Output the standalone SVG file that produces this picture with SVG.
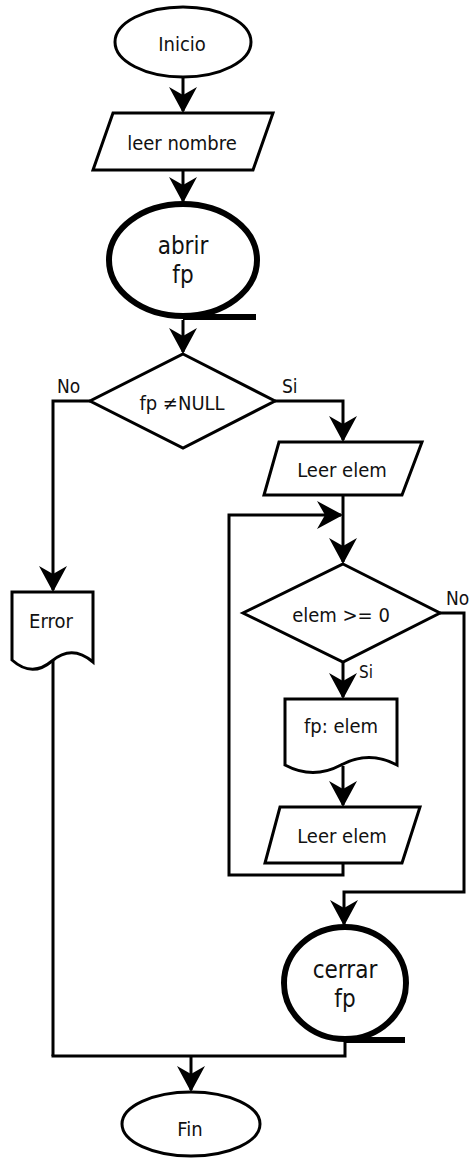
<svg xmlns="http://www.w3.org/2000/svg" width="470" height="1158" viewBox="0 0 470 1158">
<style>
.s{fill:#fff;stroke:#000;stroke-width:3;stroke-linejoin:miter}
.t{fill:#fff;stroke:#000;stroke-width:6}
.c{fill:none;stroke:#000;stroke-width:3}
.tail{stroke:#000;stroke-width:6}
text{font-family:"DejaVu Sans Condensed","DejaVu Sans",Verdana,sans-serif;font-stretch:condensed;font-size:20px;fill:#111;text-anchor:middle}
.big{font-size:24px}
.lbl{font-size:19px;text-anchor:start}
</style>
<defs>
<marker id="ah" markerUnits="userSpaceOnUse" markerWidth="28" markerHeight="28" viewBox="0 0 28 28" refX="24" refY="14" orient="auto">
<path d="M26,14 L0,0 L8,14 L0,28 Z" fill="#000"/>
</marker>
</defs>
<g id="connectors">
<line class="c" x1="183" y1="77" x2="183" y2="111" marker-end="url(#ah)"/>
<line class="c" x1="183" y1="171" x2="183" y2="201" marker-end="url(#ah)"/>
<line class="c" x1="183" y1="320" x2="183" y2="352" marker-end="url(#ah)"/>
<polyline class="c" points="90,401 53,401 53,590" marker-end="url(#ah)"/>
<polyline class="c" points="275,401 343,401 343,440" marker-end="url(#ah)"/>
<line class="c" x1="343" y1="495" x2="343" y2="562" marker-end="url(#ah)"/>
<polyline class="c" points="343,863 343,875 229,875 229,515 341,515" marker-end="url(#ah)"/>
<line class="c" x1="343" y1="662" x2="343" y2="697" marker-end="url(#ah)"/>
<line class="c" x1="343" y1="766" x2="343" y2="805" marker-end="url(#ah)"/>
<polyline class="c" points="440,613 464,613 464,892 344,892 344,924" marker-end="url(#ah)"/>
<line class="c" x1="53" y1="661" x2="53" y2="1056"/>
<polyline class="c" points="345,1040 345,1056 51.5,1056"/>
<line class="c" x1="191" y1="1056" x2="191" y2="1090" marker-end="url(#ah)"/>
<text class="lbl" x="57" y="393">No</text>
<text class="lbl" x="282" y="393">Si</text>
<text class="lbl" x="446" y="605">No</text>
<text class="lbl" x="359" y="678" style="font-size:17px">Si</text>
</g>
<g id="inicio">
<ellipse class="s" cx="183" cy="42" rx="68" ry="35"/>
<text x="182" y="51">Inicio</text>
</g>
<g id="leer-nombre">
<polygon class="s" points="113,113 273,113 253,170 93,170"/>
<text x="182" y="150">leer nombre</text>
</g>
<g id="abrir-fp">
<ellipse class="t" cx="183" cy="260" rx="74" ry="56"/>
<line class="tail" x1="183" y1="317" x2="256" y2="317"/>
<text class="big" x="183" y="254">abrir</text>
<text class="big" x="183" y="283">fp</text>
</g>
<g id="cond-fp">
<polygon class="s" points="183,354 275,401 183,448 90,401"/>
<text x="182" y="410">fp ≠NULL</text>
</g>
<g id="error">
<path class="s" d="M12,592 H93 V662 Q72,644 52,661 Q32,678 12,660 Z"/>
<text x="51" y="628">Error</text>
</g>
<g id="leer-elem-1">
<polygon class="s" points="279,442 422,442 402,495 264,495"/>
<text x="342" y="477">Leer elem</text>
</g>
<g id="cond-elem">
<polygon class="s" points="343,564 440,613 343,662 243,613"/>
<text x="341" y="622">elem &gt;= 0</text>
</g>
<g id="fp-elem">
<path class="s" d="M285,699 H397 V765 Q369,750 341,765 Q313,780 285,765 Z"/>
<text x="341" y="733">fp: elem</text>
</g>
<g id="leer-elem-2">
<polygon class="s" points="280,807 420,807 402,863 265,863"/>
<text x="342" y="843">Leer elem</text>
</g>
<g id="cerrar-fp">
<ellipse class="t" cx="345" cy="983" rx="61" ry="56"/>
<line class="tail" x1="345" y1="1040" x2="405" y2="1040"/>
<text class="big" x="345" y="978">cerrar</text>
<text class="big" x="345" y="1007">fp</text>
</g>
<g id="fin">
<ellipse class="s" cx="191" cy="1124" rx="69" ry="32"/>
<text x="190" y="1136">Fin</text>
</g>
</svg>
